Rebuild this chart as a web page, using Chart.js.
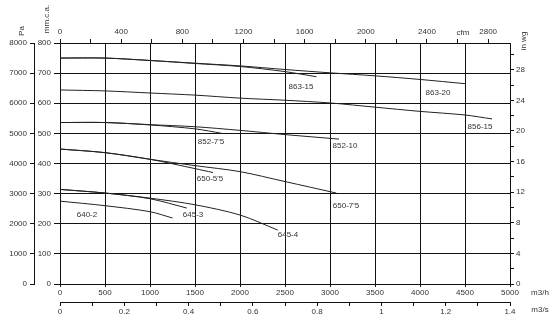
<!DOCTYPE html>
<html>
<head>
<meta charset="utf-8">
<script src="https://cdn.jsdelivr.net/npm/chart.js@4.4.1/dist/chart.umd.min.js"></script>
<style>
html, body { margin: 0; padding: 0; background: #fff; }
#wrap { width: 560px; height: 320px; }
</style>
</head>
<body>
<div id="wrap"><canvas id="graficoVentilador"></canvas></div>
<script>
// Curvas caudal (m3/h) - presion (mm.c.a.)
const curva863_15 = [[0, 750], [500, 750], [1000, 742], [1500, 732], [2000, 722], [2500, 705], [2850, 688]];
const curva863_20 = [[0, 750], [500, 750], [1000, 742], [1500, 733], [2000, 724], [2500, 712], [3000, 701], [3500, 691], [4000, 679], [4500, 665]];
const curva856_15 = [[0, 644], [500, 641], [1000, 634], [1500, 627], [2000, 617], [2500, 610], [3000, 601], [3500, 587], [4000, 573], [4500, 561], [4800, 548]];
const curva852_10 = [[0, 536], [500, 536], [1000, 529], [1500, 522], [2000, 510], [2500, 496], [3100, 481]];
const curva852_75 = [[0, 536], [500, 536], [1000, 528], [1500, 515], [1800, 500]];
const curva650_75 = [[0, 448], [500, 436], [1000, 414], [1500, 393], [2000, 373], [2500, 340], [3070, 302]];
const curva650_55 = [[0, 448], [500, 436], [1000, 414], [1500, 383], [1700, 370]];
const curva645_4 = [[0, 314], [500, 302], [1000, 285], [1500, 263], [2000, 229], [2420, 179]];
const curva645_3 = [[0, 314], [500, 302], [1000, 283], [1410, 252]];
const curva640_2 = [[0, 275], [500, 260], [1000, 240], [1250, 219]];

const curvas = [curva863_15, curva863_20, curva856_15, curva852_10, curva852_75,
                curva650_75, curva650_55, curva645_4, curva645_3, curva640_2];

// Etiquetas de modelo (caudal, presion)
const etiquetas = ['863-15', '863-20', '856-15', "852-7'5", '852-10', "650-5'5", "650-7'5", '640-2', '645-3', '645-4'];
const etiquetaCaudal = [2678, 4200, 4667, 1678, 3167, 1667, 3178, 300, 1478, 2533];
const etiquetaPresion = [654, 634, 521, 471, 458, 348, 259, 229, 229, 163];

const fuente = { family: 'Liberation Sans, Arial, sans-serif', size: 8 };
const negro = '#111';
const texto = '#333';

const textosEjes = {
    id: 'textosEjes',
    afterDraw(chart) {
        const ctx = chart.ctx;
        const a = chart.chartArea;
        ctx.save();
        ctx.fillStyle = texto;
        ctx.font = '8px Liberation Sans, Arial, sans-serif';
        ctx.textAlign = 'center';
        ctx.textBaseline = 'middle';
        // etiquetas de curvas
        for (let i = 0; i < etiquetas.length; i++) {
            const px = chart.scales.x.getPixelForValue(etiquetaCaudal[i]);
            const py = chart.scales.y.getPixelForValue(etiquetaPresion[i]);
            ctx.fillText(etiquetas[i], px, py);
        }
        // unidades
        ctx.fillText('cfm', a.right - 47, a.top - 10);
        ctx.fillText('m3/h', a.right + 30, a.bottom + 9);
        ctx.fillText('m3/s', a.right + 30, a.bottom + 26);
        const vertical = (t, x, y) => {
            ctx.save();
            ctx.translate(x, y);
            ctx.rotate(-Math.PI / 2);
            ctx.fillText(t, 0, 0);
            ctx.restore();
        };
        vertical('Pa', 22, 31);
        vertical('mm.c.a.', 47, 19);
        vertical('in wg', a.right + 14, 41);
        ctx.restore();
    }
};

const simple = v => String(v);

new Chart(document.getElementById('graficoVentilador').getContext('2d'), {
    type: 'scatter',
    data: {
        datasets: curvas.map((c, i) => ({
            label: 'c' + i,
            data: c.map(p => ({ x: p[0], y: p[1] })),
            showLine: true,
            borderColor: '#222',
            borderWidth: 1,
            pointRadius: 0,
            tension: 0.3,
            xAxisID: 'x',
            yAxisID: 'y'
        }))
    },
    options: {
        responsive: true,
        maintainAspectRatio: false,
        animation: false,
        layout: { padding: 0 },
        plugins: { legend: { display: false }, tooltip: { enabled: false } },
        scales: {
            x: {
                type: 'linear', axis: 'x', position: 'bottom', weight: 0,
                min: 0, max: 5000,
                ticks: { stepSize: 500, font: fuente, color: texto, padding: 1, maxRotation: 0, autoSkip: false, callback: simple },
                grid: { color: negro, lineWidth: 1, tickLength: 3 },
                border: { color: negro },
                afterFit: s => { s.height = 18; }
            },
            xs: {
                type: 'linear', axis: 'x', position: 'bottom', weight: 1,
                min: 0, max: 1.4,
                ticks: {
                    stepSize: 0.1, font: fuente, color: texto, padding: 1, maxRotation: 0, autoSkip: false,
                    callback: v => { const k = Math.round(v * 10); return k % 2 === 0 ? String(k / 10) : ''; }
                },
                grid: { drawOnChartArea: false, color: negro, tickLength: 4 },
                border: { color: negro },
                afterFit: s => { s.height = 18; }
            },
            xt: {
                type: 'linear', axis: 'x', position: 'top',
                min: 0, max: 5000 / 1.699,
                ticks: {
                    stepSize: 200, includeBounds: false, font: fuente, color: texto, padding: 2, maxRotation: 0, autoSkip: false,
                    callback: v => (Math.abs(v % 400) < 1e-6 ? String(v) : '')
                },
                grid: { drawOnChartArea: false, color: negro, tickLength: 4 },
                border: { color: negro },
                afterFit: s => { s.height = 43; }
            },
            y: {
                type: 'linear', axis: 'y', position: 'left', weight: 0,
                min: 0, max: 800,
                ticks: { stepSize: 100, font: fuente, color: texto, padding: 3, callback: simple },
                grid: { color: negro, lineWidth: 1, tickLength: 6 },
                border: { color: negro },
                afterFit: s => { s.width = 26; }
            },
            yp: {
                type: 'linear', axis: 'y', position: 'left', weight: 1,
                min: 0, max: 8000,
                ticks: { stepSize: 1000, font: fuente, color: texto, padding: 3, callback: simple },
                grid: { drawOnChartArea: false, color: negro, tickLength: 4 },
                border: { color: negro },
                afterFit: s => { s.width = 34; }
            },
            yr: {
                type: 'linear', axis: 'y', position: 'right',
                min: 0, max: 800 / 25.4,
                ticks: {
                    stepSize: 2, includeBounds: false, font: fuente, color: texto, padding: 2,
                    callback: v => (Math.abs(v % 4) < 1e-6 ? String(v) : '')
                },
                grid: { drawOnChartArea: false, color: negro, tickLength: 4 },
                border: { color: negro },
                afterFit: s => { s.width = 50; }
            }
        }
    },
    plugins: [textosEjes]
});
</script>
</body>
</html>
